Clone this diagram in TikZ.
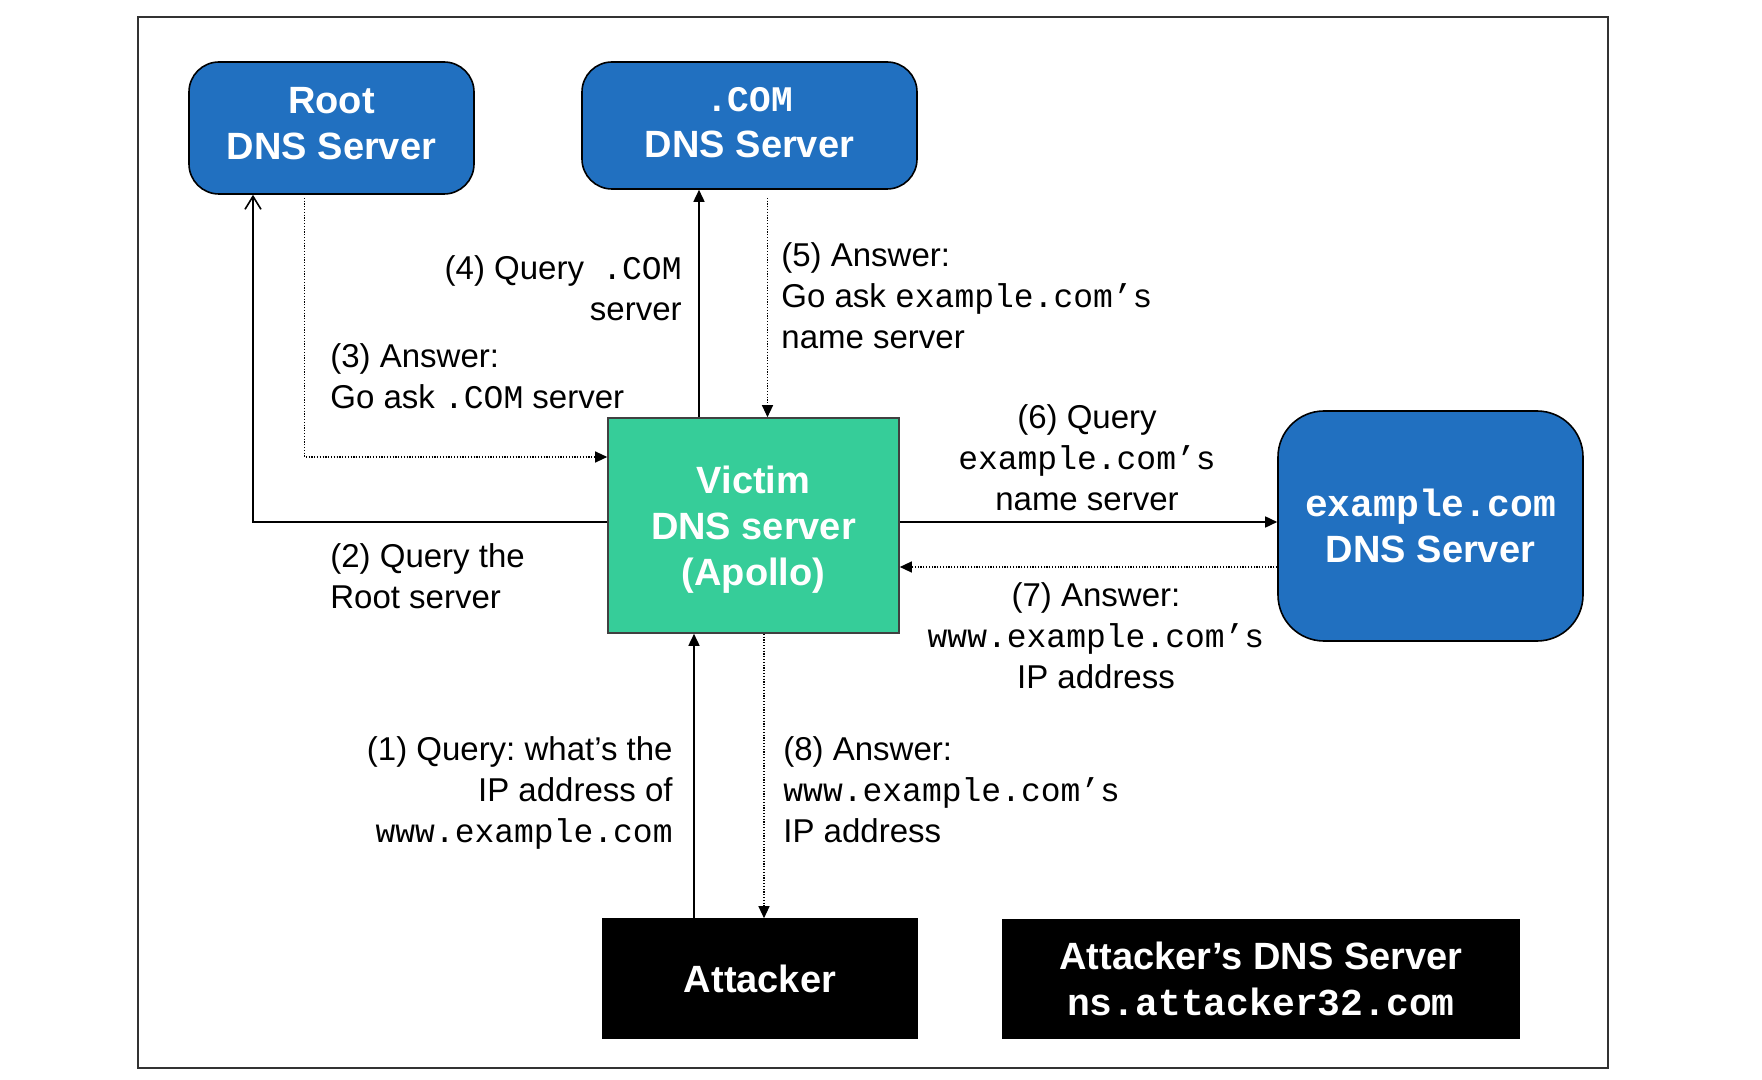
\documentclass[tikz,border=0pt]{standalone}
\usepackage{fontspec}
\setmainfont{Liberation Sans}
\newfontfamily\monof{Liberation Mono}
\usetikzlibrary{arrows.meta}
\definecolor{dnsblue}{RGB}{33,112,192}
\definecolor{victimgreen}{RGB}{54,205,153}
\definecolor{framegray}{RGB}{50,50,50}
\frenchspacing
\begin{document}
\begin{tikzpicture}[x=0.5pt,y=-0.5pt,
  box/.style={draw=black, line width=0.8pt, text=white, font=\bfseries\fontsize{19}{23}\selectfont, align=center, inner sep=0pt},
  bluebox/.style={box, fill=dnsblue, rounded corners=15pt},
  greenbox/.style={box, fill=victimgreen, draw=black!75},
  blackbox/.style={box, fill=black},
  lbl/.style={font=\fontsize{16.5}{20.5}\selectfont, inner sep=0pt, text=black},
  arr/.style={line width=0.8pt, -{Triangle[length=6pt,width=5.5pt]}},
  openarr/.style={line width=0.8pt, -{Straight Barb[length=6.5pt,width=8pt]}},
  dotarr/.style={line width=0.6pt, dash pattern=on 0.6pt off 0.8pt, -{Triangle[length=6pt,width=5.5pt]}}
]
\useasboundingbox (0,0) rectangle (1762,1080);
\draw[framegray, line width=1pt] (138,17) rectangle (1608,1068);

% boxes
\node[bluebox, text depth=4.5pt, minimum width=142.5pt, minimum height=66pt] (root) at (331.5,128) {Root\\DNS Server};
\node[bluebox, text depth=3pt, minimum width=167.5pt, minimum height=63.5pt] (com) at (749.5,125.5) {{\monof\fontsize{18}{23}\selectfont .COM}\\DNS Server};
\node[greenbox, text depth=-3.7pt, minimum width=145.5pt, minimum height=107.5pt] (victim) at (753.5,525.5) {Victim\\DNS server\\(Apollo)};
\node[bluebox, rounded corners=23pt, minimum width=152.5pt, minimum height=115pt] (example) at (1430.5,526) {{\monof\bfseries example.com}\\DNS Server};
\node[blackbox, minimum width=157pt, minimum height=59.5pt] (attacker) at (760,978.5) {Attacker};
\node[blackbox, minimum width=258pt, minimum height=59pt] (adns) at (1261,979) {Attacker’s DNS Server\\{\monof\bfseries ns.attacker32.com}};

% guide coordinates
\coordinate (x1) at (694,0);
\coordinate (x2) at (253,0);
\coordinate (y2) at (0,522);
\coordinate (x3) at (304.5,0);
\coordinate (y3) at (0,457);
\coordinate (x4) at (699,0);
\coordinate (x5) at (767.5,0);
\coordinate (y6) at (0,522);
\coordinate (y7) at (0,567);
\coordinate (x8) at (764,0);

% connectors
\draw[arr] (attacker.north -| x1) -- (victim.south -| x1);
\draw[openarr] (victim.west |- y2) -| (root.south -| x2);
\draw[dotarr, shorten <=1.5pt] (root.south -| x3) |- (victim.west |- y3);
\draw[arr] (victim.north -| x4) -- (com.south -| x4);
\draw[dotarr, shorten <=4pt] (com.south -| x5) -- (victim.north -| x5);
\draw[arr] (victim.east |- y6) -- (example.west |- y6);
\draw[dotarr] (example.west |- y7) -- (victim.east |- y7);
\draw[dotarr] (victim.south -| x8) -- (attacker.north -| x8);

% labels
\node[lbl, anchor=east, align=right] (l4) at (682,288) {(4) Query\ \ {\monof .COM}\\server};
\node[lbl, anchor=west, align=left] (l3) at (330,376) {(3) Answer:\\Go ask {\monof .COM} server};
\node[lbl, anchor=west, align=left] (l5) at (781,295.5) {(5) Answer:\\Go ask {\monof example.com’s}\\name server};
\node[lbl, align=center] (l6) at (1087,458) {(6) Query\\{\monof example.com’s}\\name server};
\node[lbl, anchor=west, align=left] (l2) at (330,576) {(2) Query the\\Root server};
\node[lbl, align=center] (l7) at (1096,635.5) {(7) Answer:\\{\monof www.example.com’s}\\IP address};
\node[lbl, anchor=east, align=right] (l1) at (673,792.5) {(1) Query: what’s the\\IP address of\\{\monof www.example.com}};
\node[lbl, anchor=west, align=left] (l8) at (783,790) {(8) Answer:\\{\monof www.example.com’s}\\IP address};
\end{tikzpicture}
\end{document}
